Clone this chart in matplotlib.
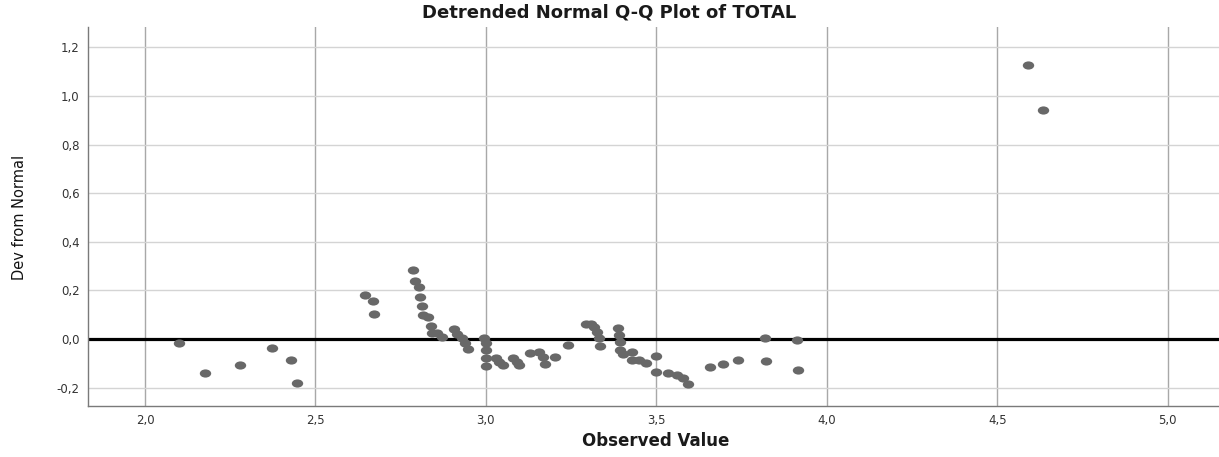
import numpy as np
import matplotlib
matplotlib.use('Agg')
import matplotlib.pyplot as plt
from matplotlib.path import Path
from matplotlib.transforms import Affine2D
from matplotlib.ticker import FuncFormatter

observed = [
    2.100, 2.177, 2.279, 2.373, 2.427, 2.445,
    2.646, 2.669, 2.673,
    2.785, 2.791, 2.804, 2.808, 2.813, 2.816, 2.831, 2.838, 2.841, 2.856, 2.870,
    2.905, 2.914, 2.929, 2.939, 2.947,
    2.995, 2.999, 3.001, 3.001, 3.001,
    3.031, 3.038, 3.049, 3.078, 3.091, 3.098,
    3.129, 3.157, 3.168, 3.173, 3.203, 3.242,
    3.294, 3.307, 3.316, 3.325, 3.332, 3.334,
    3.386, 3.389, 3.392, 3.394, 3.402, 3.427, 3.429, 3.450, 3.469,
    3.500, 3.500, 3.534, 3.560, 3.578, 3.594,
    3.657, 3.695, 3.739, 3.819, 3.821, 3.912, 3.916,
    4.589, 4.635,
]
dev_from_normal = [
    -0.015, -0.140, -0.107, -0.038, -0.085, -0.182,
    0.180, 0.155, 0.103,
    0.284, 0.240, 0.214, 0.172, 0.136, 0.098, 0.090, 0.055, 0.023, 0.023, 0.008,
    0.040, 0.022, 0.004, -0.018, -0.040,
    0.003, -0.018, -0.046, -0.079, -0.110,
    -0.077, -0.093, -0.107, -0.080, -0.095, -0.107,
    -0.059, -0.052, -0.075, -0.103, -0.073, -0.024,
    0.063, 0.063, 0.050, 0.030, 0.004, -0.027,
    0.045, 0.016, -0.011, -0.045, -0.062, -0.054, -0.087, -0.086, -0.099,
    -0.071, -0.137, -0.142, -0.148, -0.162, -0.184,
    -0.114, -0.103, -0.086, 0.003, -0.091, -0.004, -0.129,
    1.127, 0.942,
]
x_ticks = [2.0, 2.5, 3.0, 3.5, 4.0, 4.5, 5.0]
y_ticks = [-0.2, 0.0, 0.2, 0.4, 0.6, 0.8, 1.0, 1.2]

point_color = '#686868'

# slightly flattened circle, like the SPSS markers
circ = Path.unit_circle()
ellipse = Path(Affine2D().scale(1.0, 0.72).transform(circ.vertices), circ.codes)

fig = plt.figure(figsize=(12.19, 4.57), dpi=100)
ax = fig.add_axes([0.0722, 0.1116, 0.9278, 0.8293])

ax.set_xlim(1.833, 5.150)
ax.set_ylim(-0.276, 1.284)

ax.set_xticks(x_ticks)
ax.set_yticks(y_ticks)
comma = FuncFormatter(lambda v, pos: f'{v:.1f}'.replace('.', ','))
ax.xaxis.set_major_formatter(comma)
ax.yaxis.set_major_formatter(comma)

ax.grid(axis='x', color='#a8a8a8', linewidth=1.0, zorder=0)
ax.grid(axis='y', color='#d4d4d4', linewidth=1.0, zorder=0)
ax.set_axisbelow(True)

ax.axhline(0, color='black', linewidth=2.3, zorder=2)

ax.plot(observed, dev_from_normal, linestyle='none', marker=ellipse,
        markersize=8.2, color=point_color, markeredgewidth=0, zorder=3)

for side in ['top', 'right']:
    ax.spines[side].set_visible(False)
for side in ['left', 'bottom']:
    ax.spines[side].set_color('#7a7a7a')
    ax.spines[side].set_linewidth(1.0)

ax.tick_params(axis='both', length=0, labelsize=8.5, labelcolor='#333333')
ax.tick_params(axis='x', pad=6)
ax.tick_params(axis='y', pad=6)

fig.text(0.5, 0.972, 'Detrended Normal Q-Q Plot of TOTAL', ha='center', va='center',
         fontsize=13, fontweight='bold', color='#1a1a1a')
fig.text(0.538, 0.035, 'Observed Value', ha='center', va='center',
         fontsize=12, fontweight='bold', color='#1a1a1a')
fig.text(0.0164, 0.525, 'Dev from Normal', rotation=90, ha='center', va='center',
         fontsize=10.5, color='#111111')

fig.savefig('out.png', dpi=100, facecolor='white')
